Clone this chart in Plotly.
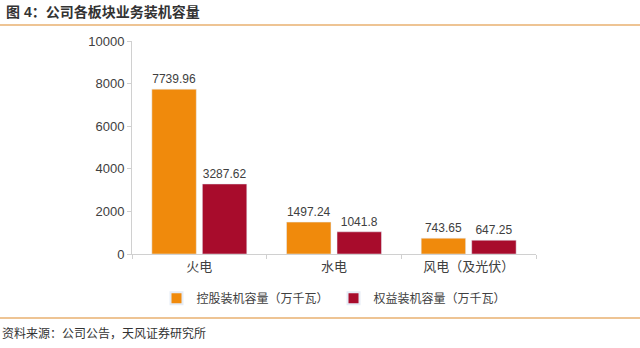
import plotly.graph_objects as go

categories = ["火电", "水电", "风电（及光伏）"]
holding = [7739.96, 1497.24, 743.65]
equity = [3287.62, 1041.8, 647.25]
series_names = ["控股装机容量（万千瓦）", "权益装机容量（万千瓦）"]
y_ticks = [0, 2000, 4000, 6000, 8000, 10000]

FONT = "Liberation Sans, Arial, Noto Sans CJK SC"
ORANGE = "#F08A0C"
RED = "#A80C2C"

fig = go.Figure()
fig.add_trace(go.Bar(x=categories, y=holding, name=series_names[0], marker_color=ORANGE,
                     text=[f"{v:g}" for v in holding], textposition="outside",
                     textfont=dict(size=12, color="#404040"), cliponaxis=False))
fig.add_trace(go.Bar(x=categories, y=equity, name=series_names[1], marker_color=RED,
                     text=[f"{v:g}" for v in equity], textposition="outside",
                     textfont=dict(size=12, color="#404040"), cliponaxis=False))

fig.update_layout(
    width=640, height=348,
    margin=dict(l=132, r=104, t=41, b=94),
    paper_bgcolor="white", plot_bgcolor="white",
    font=dict(family=FONT, size=13, color="#404040"),
    barmode="group", bargap=0.25, bargroupgap=0.12,
    showlegend=True,
    legend=dict(orientation="h", x=0.5, xanchor="center", y=-0.14, yanchor="top",
                font=dict(size=12, color="#404040"), itemwidth=30,
                traceorder="normal", itemsizing="constant", tracegroupgap=0),
    xaxis=dict(showline=True, linecolor="#d0d0d0", linewidth=1, ticks="outside",
               tickson="boundaries", ticklen=4, tickcolor="#d0d0d0",
               tickfont=dict(size=13, color="#404040")),
    yaxis=dict(range=[0, 10000], tickvals=y_ticks, ticktext=[str(v) for v in y_ticks],
               showgrid=False, showline=True,
               linecolor="#d0d0d0", linewidth=1, ticks="outside", ticklen=4,
               tickcolor="#d0d0d0", tickfont=dict(size=13, color="#404040"),
               zeroline=False),
)

fig.add_annotation(text="<b>图 4：公司各板块业务装机容量</b>", xref="paper", yref="paper",
                   x=-128/404, xanchor="left", y=1 + (41-12)/213, yanchor="middle",
                   showarrow=False, font=dict(size=14, color="#333333"))
fig.add_annotation(text="资料来源：公司公告，天风证券研究所", xref="paper", yref="paper",
                   x=-132/404, xanchor="left", y=-(333-254)/213, yanchor="middle",
                   showarrow=False, font=dict(size=12, color="#333333"))
fig.add_shape(type="line", xref="paper", yref="paper", x0=-132/404, x1=(640-132)/404,
              y0=1 + (41-25)/213, y1=1 + (41-25)/213, line=dict(color="#E8B070", width=1.5))
fig.add_shape(type="line", xref="paper", yref="paper", x0=-132/404, x1=(640-132)/404,
              y0=-(318-254)/213, y1=-(318-254)/213, line=dict(color="#E8B070", width=1.5))

fig.write_html("out.html")
